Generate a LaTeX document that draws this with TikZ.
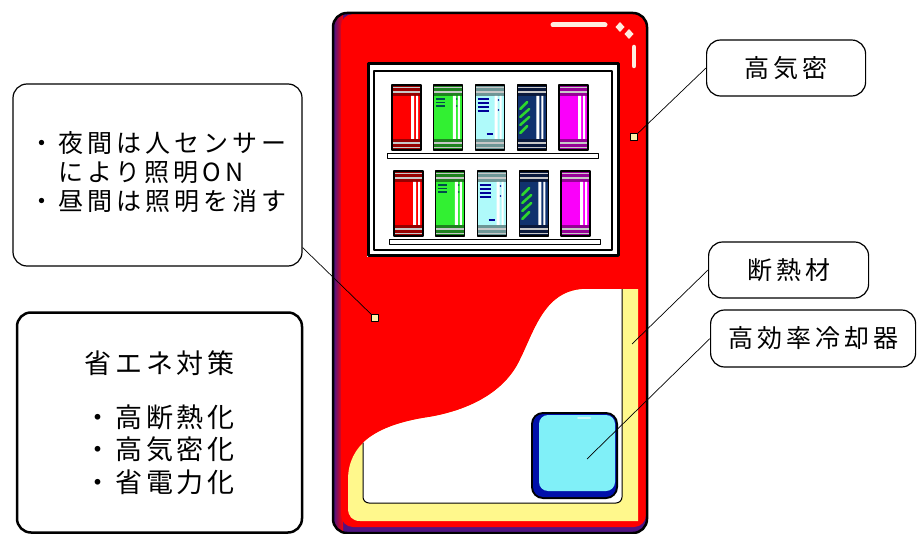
\documentclass[tikz,border=0pt]{standalone}
\usepackage{fontspec}
\newfontfamily\jp[LetterSpace=16]{Noto Sans CJK JP}
\newfontfamily\jpwide[LetterSpace=14]{Noto Sans CJK JP}
\usetikzlibrary{positioning}

\definecolor{vmred}{RGB}{255,0,0}
\definecolor{vmpurple}{RGB}{80,20,130}
\definecolor{hilite}{RGB}{255,236,222}
\definecolor{insulyel}{RGB}{255,248,140}
\definecolor{lampyel}{RGB}{255,240,170}
\definecolor{coolcyan}{RGB}{128,240,248}
\definecolor{coolblue}{RGB}{0,16,170}
\definecolor{cangrey}{RGB}{200,200,200}
\definecolor{canredd}{RGB}{150,0,0}
\definecolor{cangreen}{RGB}{50,240,50}
\definecolor{cangreend}{RGB}{30,130,30}
\definecolor{cancyan}{RGB}{175,250,250}
\definecolor{cancyand}{RGB}{110,150,150}
\definecolor{cannavy}{RGB}{16,50,110}
\definecolor{cannavyd}{RGB}{10,25,60}
\definecolor{canmag}{RGB}{250,0,250}
\definecolor{canmagd}{RGB}{150,0,150}

\tikzset{
  callout/.style={draw, line width=1.2pt, rounded corners=14pt, fill=white, inner sep=0pt,
    font=\jp\fontsize{25}{29}\selectfont},
  lamp/.style={draw, line width=0.8pt, fill=lampyel, minimum size=7pt, inner sep=0pt},
  leader/.style={line width=0.7pt}
}

% one drink can, top left corner at (#1,#2), body colour #3, band colour #4
\newcommand\drawcan[4]{%
  \begin{scope}[shift={(#1,#2)}]
    \fill[#4] (0,0) rectangle (29,65);
    \fill[#3] (0,11) rectangle (29,54);
    \foreach \yy in {2.5,7,58,62.5} \draw[cangrey, line width=1.5pt] (0,\yy) -- (29,\yy);
    \fill[white] (19,11) rectangle (22,54) (24,11) rectangle (26,54);
    \draw[line width=1.2pt] (0,0) rectangle (29,65);
  \end{scope}}

\begin{document}
\begin{tikzpicture}[x=1pt, y=-1pt, line join=round]
  \useasboundingbox (0,0) rectangle (917,534);

  % cabinet
  \fill[vmpurple, rounded corners=14pt] (333,13) rectangle (647,533);
  \begin{scope}
    \clip[rounded corners=14pt] (333,13) rectangle (647,533);
    \shade[left color=vmpurple, right color=vmred] (334,13) rectangle (343,533);
    \fill[vmred, rounded corners=12pt] (341,14) rectangle (646,527);
  \end{scope}
  \draw[line width=2.5pt, rounded corners=14pt] (333,13) rectangle (647,533);

  % gloss on the top right corner
  \draw[hilite, line width=5pt, line cap=round] (553,25) -- (605,25);
  \fill[hilite] (620,22) -- (624.5,27) -- (620,32) -- (615.5,27) -- cycle;
  \fill[hilite] (629,29) -- (633.5,34) -- (629,39) -- (624.5,34) -- cycle;
  \draw[hilite, line width=4.5pt, line cap=round] (634,47) -- (634,66);

  % display window
  \fill[white] (367,63) rectangle (619,257);
  \draw[line width=3pt] (368,64) rectangle (618,256);
  \draw[line width=1.2pt] (374,71) rectangle (612,250);

  \foreach \row/\dx in {85/0,171/2}{
    \foreach \i/\body/\band in {0/vmred/canredd,1/cangreen/cangreend,2/cancyan/cancyand,
                                3/cannavy/cannavyd,4/canmag/canmagd}{
      \pgfmathsetmacro\cx{392+\dx+41.75*\i}
      \drawcan{\cx}{\row}{\body}{\band}
    }
    % labels and prints
    \begin{scope}[shift={({433.75+\dx},\row)}]
      \foreach \yy in {14,17.5,21} \draw[teal!60!black, line width=1.5pt] (2,\yy) -- (11,\yy);
      \fill[teal!60!black] (23,14) circle (0.9) (23,21) circle (0.9);
    \end{scope}
    \begin{scope}[shift={({475.5+\dx},\row)}]
      \foreach \yy in {14,18,22,26} \draw[blue!60!black, line width=1.5pt] (2,\yy) -- (13,\yy);
      \fill[blue!60!black] (23,15) circle (0.9) (23,25) circle (0.9);
      \draw[blue!60!black, line width=1.5pt] (11,49) -- (17,49);
    \end{scope}
    \begin{scope}[shift={({517.25+\dx},\row)}]
      \draw[cangreen!90!black, line width=2.5pt, line cap=round]
        (3,24) -- (10,17) (3,32) -- (12,24) (3,40) -- (12,32) (3,48) -- (10,41);
    \end{scope}
  }
  \draw[fill=white, line width=1pt] (387,154) rectangle (598,159);
  \draw[fill=white, line width=1pt] (389,240) rectangle (600,245);

  % insulation and inner box
  \fill[insulyel] (638,289) -- (587,289) .. controls (545,289) and (535,330) .. (520,360)
    .. controls (505,392) and (470,410) .. (430,417) .. controls (375,425) and (348,445) .. (348,480)
    -- (348,508) .. controls (348,516) and (352,521) .. (360,521) -- (638,521) -- cycle;
  \begin{scope}
    \clip (638,289) -- (587,289) .. controls (545,289) and (535,330) .. (520,360)
      .. controls (505,392) and (470,410) .. (430,417) .. controls (375,425) and (348,445) .. (348,480)
      -- (348,521) -- (638,521) -- cycle;
    \draw[fill=white, line width=1pt, rounded corners=6pt] (363,280) rectangle (622,503);
  \end{scope}

  % cooling unit
  \fill[rounded corners=12pt] (531,412) rectangle (618,499);
  \fill[coolblue, rounded corners=10pt] (533,414) rectangle (616,497);
  \fill[coolcyan, rounded corners=9pt] (539,415) rectangle (615,491);
  \draw[coolcyan!40!white, line width=2pt, line cap=round] (578,418) -- (590,418);
  \coordinate (coolc) at (587,459);
  \coordinate (insulpt) at (632,344);

  \node[lamp] (lampR) at (634,137) {};
  \node[lamp] (lampL) at (375,318) {};

  % callouts
  \node[callout, minimum width=289pt, minimum height=182pt, align=left] (night) at (157.5,175)
    {・夜間は人センサー\\　により照明ON\\・昼間は照明を消す\\[-21pt]};
  \node[callout, line width=2.5pt, minimum width=285pt, minimum height=220pt, align=center,
    font=\jpwide\fontsize{27}{32.5}\selectfont] (saving) at (159.5,422.5)
    {省エネ対策\\[21pt]・高断熱化\\・高気密化\\・省電力化};
  \node[callout, anchor=west, minimum width=159pt, minimum height=56pt] (airtight) at (706,68) {高気密};
  \node[callout, anchor=west, minimum width=160pt, minimum height=56pt] (insul) at (708,270) {断熱材};
  \node[callout, anchor=west, minimum width=205pt, minimum height=57pt] (cooler) at (710,338.5) {高効率冷却器};

  \draw[leader] (airtight.west) -- (lampR);
  \draw[leader] ([yshift=19pt]night.south east) -- (lampL);
  \draw[leader] (insul.west) -- (insulpt);
  \draw[leader] (cooler.west) -- (coolc);
\end{tikzpicture}
\end{document}
